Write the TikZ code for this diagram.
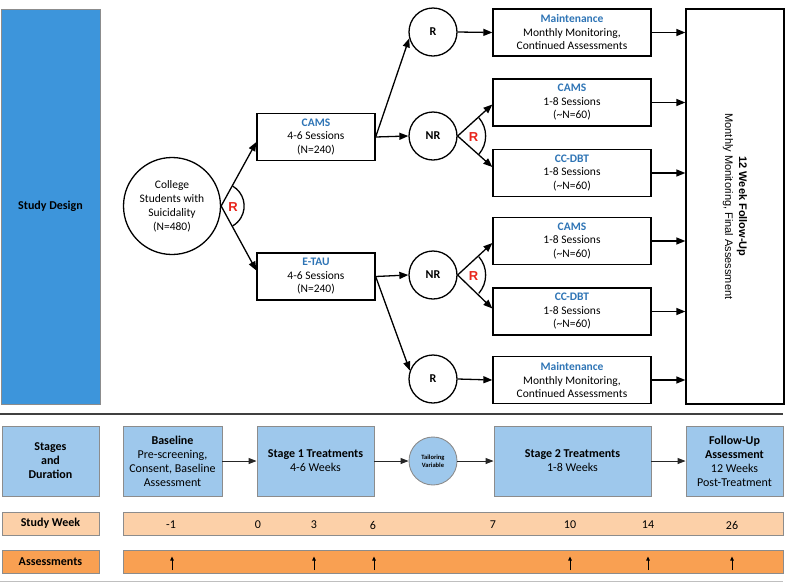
\documentclass[tikz,border=0pt]{standalone}
\usepackage{fontspec}
\setmainfont{Carlito}
\newfontfamily\arialf{Liberation Sans}
\usetikzlibrary{arrows.meta,calc}
\definecolor{sdblue}{RGB}{61,149,219}
\definecolor{ltblue}{RGB}{158,200,236}
\definecolor{peach}{RGB}{252,208,168}
\definecolor{orng}{RGB}{249,160,82}
\definecolor{ttlblue}{RGB}{46,116,181}
\definecolor{rred}{RGB}{232,38,28}
\definecolor{bgray}{RGB}{140,140,140}
\begin{document}
\begin{tikzpicture}[x=1pt,y=-1pt,
  tbox/.style={draw=black, line width=1.3pt, align=center, inner sep=0pt,
    minimum height=47pt, font=\fontsize{11.5}{13.5}\selectfont},
  tcirc/.style={draw=black, line width=1.3pt, circle, minimum size=48pt, inner sep=0pt,
    font=\fontsize{12}{13}\selectfont\bfseries},
  arr/.style={line width=1.3pt, -{Triangle[length=9pt,width=7pt]}},
  rarc/.style={line width=1.3pt},
  rlab/.style={font=\arialf\fontsize{13}{13}\selectfont\bfseries, text=rred},
  bbox/.style={draw=bgray, line width=0.9pt, fill=ltblue, align=center, inner sep=0pt,
    minimum height=70pt, font=\fontsize{12}{14}\selectfont},
  barr/.style={line width=0.9pt, draw=black!85, -{Triangle[length=8pt,width=6pt]}},
  wbar/.style={draw=bgray, line width=0.9pt, fill=peach, inner sep=0pt, minimum height=23pt},
  abar/.style={draw=bgray, line width=0.9pt, fill=orng, inner sep=0pt, minimum height=23pt},
  wnum/.style={font=\fontsize{12}{12}\selectfont},
  sarr/.style={line width=0.8pt, -{Triangle[length=4pt,width=3.5pt]}}
]
\useasboundingbox (0,0) rectangle (785,582);

% ---------- Study design ----------
\node[draw=bgray, line width=0.8pt, fill=sdblue, minimum width=99pt, minimum height=395pt,
  font=\fontsize{12}{13}\selectfont\bfseries] (sd) at (50.5,206.5) {Study Design};

\node[tcirc, minimum size=97pt, font=\fontsize{11.5}{14}\selectfont, align=center]
  (stud) at (172,206) {College\\Students with\\Suicidality\\(N=480)};

\node[tbox, minimum width=118pt] (cams) at (316,137) {\textcolor{ttlblue}{\bfseries CAMS}\\4-6 Sessions\\(N=240)};
\node[tbox, minimum width=118pt] (etau) at (316,276.5) {\textcolor{ttlblue}{\bfseries E-TAU}\\4-6 Sessions\\(N=240)};

\node[tcirc] (r1) at (433,32) {R};
\node[tcirc] (nr1) at (433,136) {NR};
\node[tcirc] (nr2) at (433,275) {NR};
\node[tcirc] (r2) at (433,379) {R};

\node[tbox, minimum width=158pt] (maint1) at (572,32.5) {\textcolor{ttlblue}{\bfseries Maintenance}\\Monthly Monitoring,\\Continued Assessments};
\node[tbox, minimum width=158pt] (cams2) at (572,102.5) {\textcolor{ttlblue}{\bfseries CAMS}\\1-8 Sessions\\(\textasciitilde N=60)};
\node[tbox, minimum width=158pt] (ccdbt1) at (572,173) {\textcolor{ttlblue}{\bfseries CC-DBT}\\1-8 Sessions\\(\textasciitilde N=60)};
\node[tbox, minimum width=158pt] (cams3) at (572,241) {\textcolor{ttlblue}{\bfseries CAMS}\\1-8 Sessions\\(\textasciitilde N=60)};
\node[tbox, minimum width=158pt] (ccdbt2) at (572,311.5) {\textcolor{ttlblue}{\bfseries CC-DBT}\\1-8 Sessions\\(\textasciitilde N=60)};
\node[tbox, minimum width=158pt] (maint2) at (572,380) {\textcolor{ttlblue}{\bfseries Maintenance}\\Monthly Monitoring,\\Continued Assessments};

\node[draw=black, line width=1.3pt, minimum width=98pt, minimum height=395pt, inner sep=0pt] (fu) at (735,206.5) {};
\node[rotate=-90, align=center, font=\arialf\fontsize{11}{14}\selectfont] (futxt) at (fu.center)
  {{\bfseries 12 Week Follow-Up}\\Monthly Monitoring, Final Assessment};

% connectors
\draw[arr] (stud.east) -- ([yshift=-5pt]cams.west);
\draw[arr] (stud.east) -- ([yshift=6pt]etau.west);
\draw[rarc] (stud.east) ++(-60:23) arc[start angle=-60,end angle=60,radius=23];
\node[rlab] (rl0) at ($(stud.east)+(12,1)$) {R};

\draw[arr] (cams.east) -- (r1.195);
\draw[arr] (cams.east) -- (nr1.west);
\draw[arr] (etau.east) -- (nr2.west);
\draw[arr] (etau.east) -- (r2.160);

\draw[arr] (r1.east) -- (maint1.west);
\draw[arr] (r2.east) -- (maint2.west);

\draw[arr] (nr1.east) -- ([yshift=-2pt]cams2.west);
\draw[arr] (nr1.east) -- ([yshift=6pt]ccdbt1.west);
\draw[rarc] (nr1.east) ++(-41:28) arc[start angle=-41,end angle=41,radius=28];
\node[rlab] (rl1) at ($(nr1.east)+(16,1)$) {R};

\draw[arr] (nr2.east) -- ([yshift=-2pt]cams3.west);
\draw[arr] (nr2.east) -- ([yshift=3pt]ccdbt2.west);
\draw[rarc] (nr2.east) ++(-41:28) arc[start angle=-41,end angle=41,radius=28];
\node[rlab] (rl2) at ($(nr2.east)+(16,1)$) {R};

\foreach \b in {maint1,cams2,ccdbt1,cams3,ccdbt2,maint2}
  \draw[arr] (\b.east) -- (\b.east -| fu.west);

% separators
\draw[line width=1.2pt, draw=black!75] (0,414) -- (783,414);
\draw[line width=1pt, draw=black!25] (0,581.5) -- (783,581.5);

% ---------- Stages ----------
\node[bbox, minimum width=97pt, font=\fontsize{12}{14}\selectfont\bfseries] (stg) at (50.5,461) {Stages\\and\\Duration};
\node[bbox, minimum width=99pt] (base) at (172.5,461) {{\bfseries Baseline}\\Pre-screening,\\Consent, Baseline\\Assessment};
\node[bbox, minimum width=117pt] (st1) at (315.5,461) {{\bfseries Stage 1 Treatments}\\4-6 Weeks};
\node[draw=bgray, line width=0.9pt, fill=ltblue, circle, minimum size=48pt, inner sep=0pt, align=center,
  font=\fontsize{6.5}{8}\selectfont\bfseries] (tv) at (433,461) {Tailoring\\Variable};
\node[bbox, minimum width=157pt] (st2) at (572.5,461) {{\bfseries Stage 2 Treatments}\\1-8 Weeks};
\node[bbox, minimum width=97pt] (fub) at (734.5,461) {{\bfseries Follow-Up}\\{\bfseries Assessment}\\12 Weeks\\Post-Treatment};

\draw[barr] (base.east) -- (st1.west);
\draw[barr] (st1.east) -- (tv.west);
\draw[barr] (tv.east) -- (st2.west);
\draw[barr] (st2.east) -- (fub.west);

% ---------- Study week ----------
\node[wbar, minimum width=97pt, font=\fontsize{12}{12}\selectfont\bfseries] (swl) at (50.5,523.5) {Study Week};
\node[wbar, minimum width=660pt] (swb) at (453,523.5) {};
\node[wnum] (w1) at (171,525) {-1};
\node[wnum] (w2) at (258,525) {0};
\node[wnum] (w3) at (314,525) {3};
\node[wnum] (w4) at (373,525) {6};
\node[wnum] (w5) at (493,525) {7};
\node[wnum] (w6) at (570,525) {10};
\node[wnum] (w7) at (648,525) {14};
\node[wnum] (w8) at (732,525) {26};

% ---------- Assessments ----------
\node[abar, minimum width=97pt, font=\fontsize{12}{12}\selectfont\bfseries] (asl) at (50.5,561.5) {Assessments};
\node[abar, minimum width=660pt] (asb) at (453,561.5) {};
\foreach \x [count=\i] in {172,314,374,570,648,732} {
  \coordinate (a\i b) at (\x,570);
  \coordinate (a\i t) at (\x,556.5);
  \draw[sarr] (a\i b) -- (a\i t);
}
\end{tikzpicture}
\end{document}
